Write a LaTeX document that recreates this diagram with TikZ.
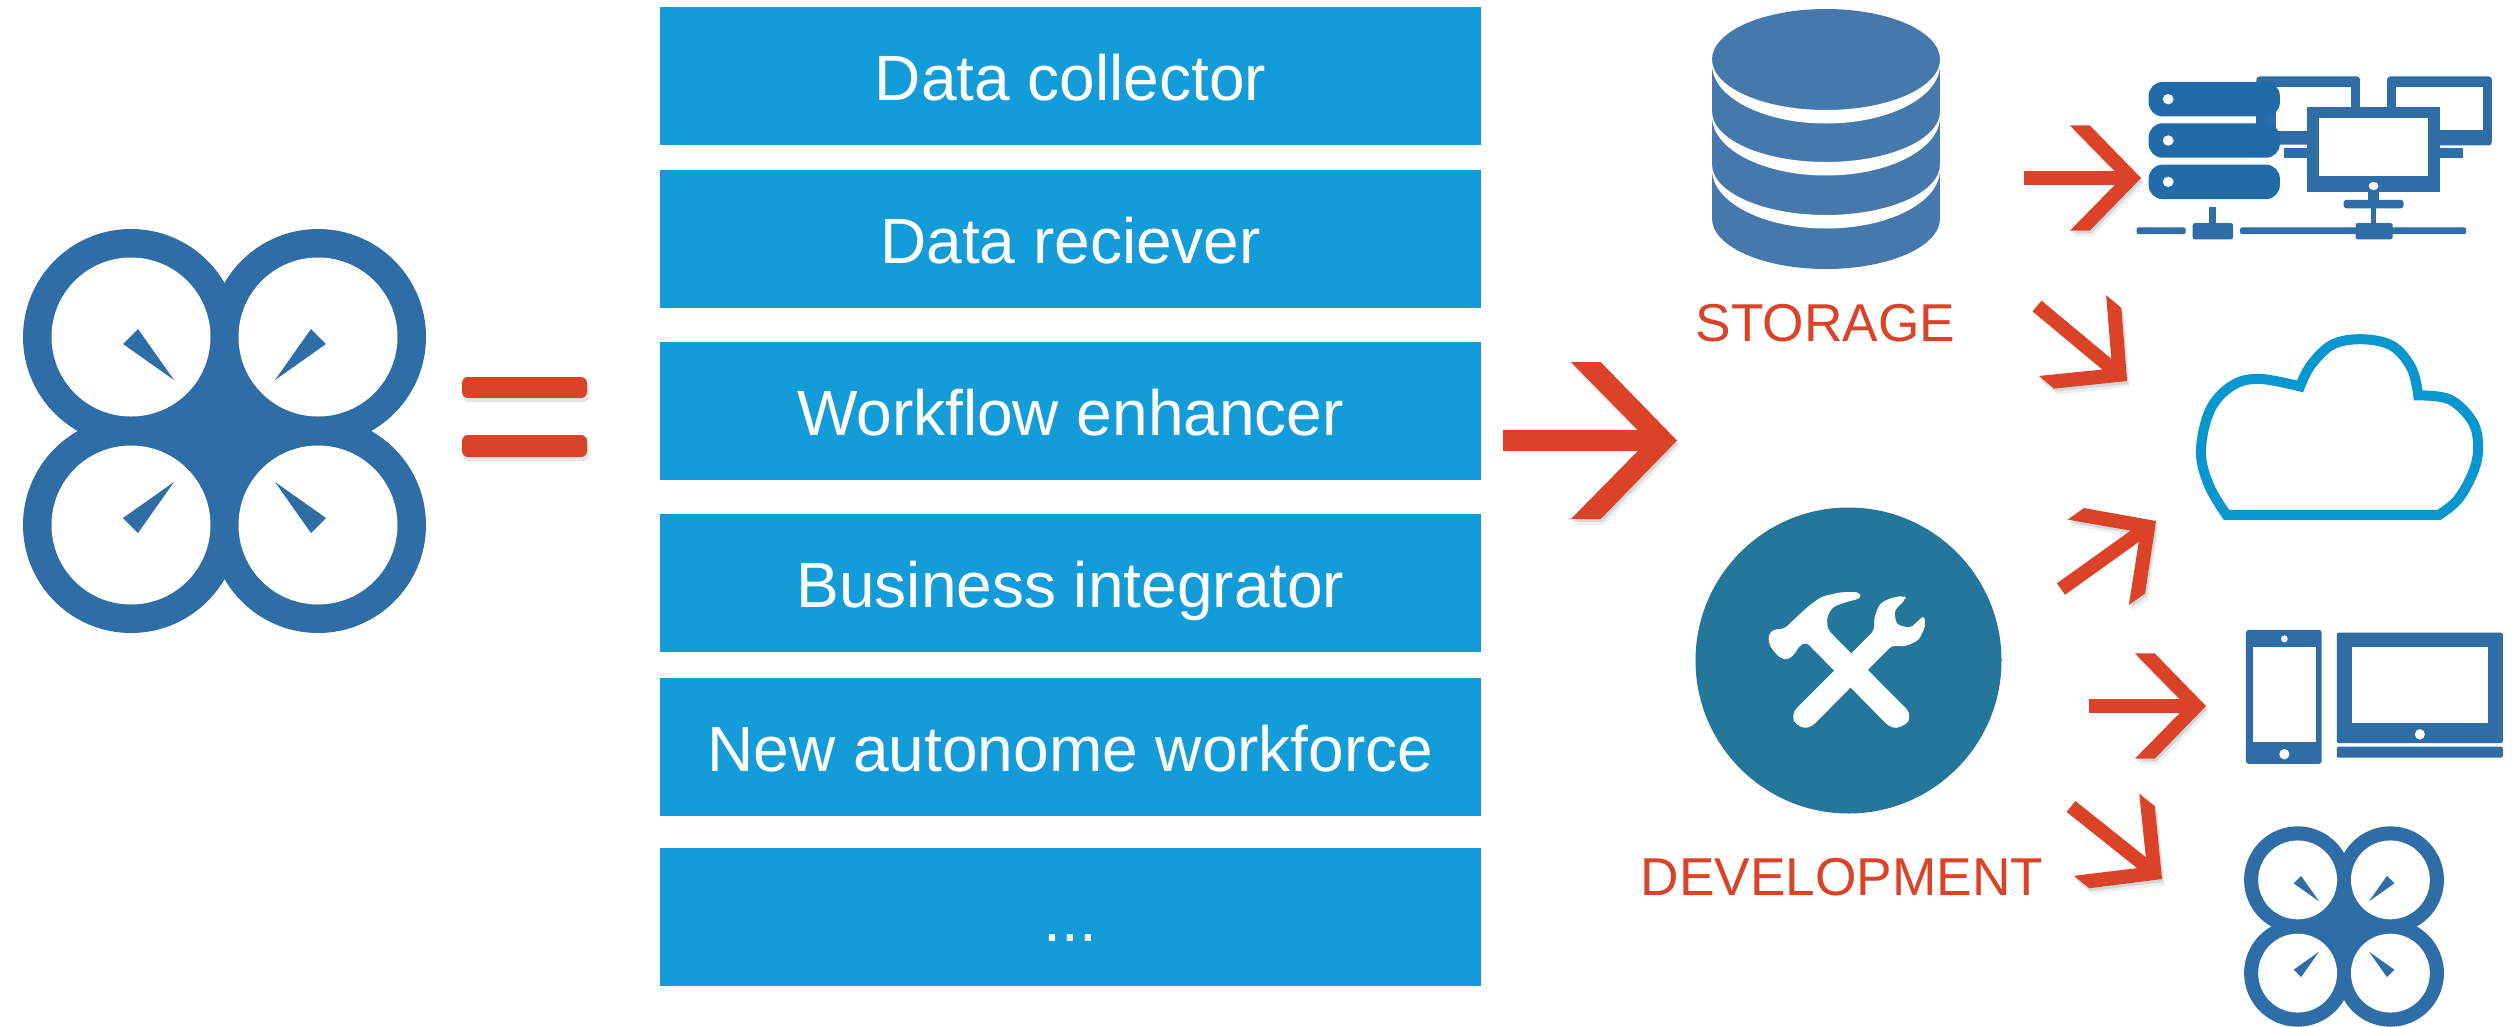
\documentclass[tikz,border=0pt]{standalone}
\usepackage{fontspec}
\setmainfont{Liberation Sans}
\usetikzlibrary{arrows.meta}
\definecolor{boxblue}{HTML}{139CD7}
\definecolor{logoblue}{HTML}{2E6DA5}
\definecolor{dbblue}{HTML}{4579AB}
\definecolor{devteal}{HTML}{24769B}
\definecolor{srvblue}{HTML}{216BA8}
\definecolor{redo}{HTML}{DA4327}
\definecolor{cloudblue}{HTML}{0796CE}
\pgfdeclarearrow{
  name=Chev,
  parameters={\the\pgfarrowlength},
  setup code={
    \pgfarrowssettipend{0pt}
    \pgfarrowssetlineend{-0.36\pgfarrowlength}
    \pgfarrowssetbackend{-0.72\pgfarrowlength}
    \pgfarrowssavethe\pgfarrowlength
  },
  drawing code={
    \pgfpathmoveto{\pgfpointorigin}
    \pgfpathlineto{\pgfpoint{-0.72\pgfarrowlength}{0.74\pgfarrowlength}}
    \pgfpathlineto{\pgfpoint{-1\pgfarrowlength}{0.74\pgfarrowlength}}
    \pgfpathlineto{\pgfpoint{-0.37\pgfarrowlength}{0.5\pgflinewidth}}
    \pgfpathlineto{\pgfpoint{-0.37\pgfarrowlength}{-0.5\pgflinewidth}}
    \pgfpathlineto{\pgfpoint{-1\pgfarrowlength}{-0.74\pgfarrowlength}}
    \pgfpathlineto{\pgfpoint{-0.72\pgfarrowlength}{-0.74\pgfarrowlength}}
    \pgfpathclose
    \pgfusepathqfill
  },
  defaults={length=70pt}
}
\tikzset{
  softshadow/.style={
    preaction={draw=black,opacity=.06,transform canvas={xshift=3pt,yshift=-6pt}},
    preaction={draw=black,opacity=.10,transform canvas={xshift=1.5pt,yshift=-3pt}}},
  redarrow/.style={draw=redo,line width=14pt,-{Chev[length=71pt]},softshadow},
  bigarrow/.style={draw=redo,line width=21pt,-{Chev[length=106pt]},softshadow},
  box/.style={fill=boxblue,text=white,minimum width=821pt,minimum height=138pt,inner sep=0pt,
    text height=48.8pt,text depth=0pt,font=\fontsize{64}{64}\selectfont},
  redlabel/.style={text=redo,anchor=base,inner sep=0pt,font=\fontsize{53.3}{53.3}\selectfont},
  eqbar/.style={fill=redo,rounded corners=6pt},
  eqshadow/.style={fill=black,opacity=.1,rounded corners=6pt},
  zoomA/.style={shift={(1660,0)},x=0.5447pt,y=-0.3444pt},
  zoomB/.style={shift={(1640,480)},x=0.5574pt,y=-0.3484pt},
  logo/.pic={
    \fill[logoblue] (-93.5,-94) circle[radius=108];
    \fill[logoblue] (93.5,-94) circle[radius=108];
    \fill[logoblue] (-93.5,94) circle[radius=108];
    \fill[logoblue] (93.5,94) circle[radius=108];
    \fill[logoblue] (-93.5,-94) rectangle (93.5,94);
    \fill[white] (-93.5,-94) circle[radius=79.5];
    \fill[white] (93.5,-94) circle[radius=79.5];
    \fill[white] (-93.5,94) circle[radius=79.5];
    \fill[white] (93.5,94) circle[radius=79.5];
    \fill[logoblue] (-50.5,-51) -- (-101.5,-87) -- (-86.5,-102) -- cycle;
    \fill[logoblue] (50.5,-51) -- (101.5,-87) -- (86.5,-102) -- cycle;
    \fill[logoblue] (-50.5,51) -- (-101.5,87) -- (-86.5,102) -- cycle;
    \fill[logoblue] (50.5,51) -- (101.5,87) -- (86.5,102) -- cycle;
  }
}
\newcommand{\dbband}[1]{%
  \fill[white] (1712,#1) arc[start angle=180,end angle=0,x radius=114,y radius=50.5]
    -- (1940,#1+5) arc[start angle=0,end angle=180,x radius=114,y radius=59] -- cycle;}
\begin{document}
\begin{tikzpicture}[x=1pt,y=-1pt]
\useasboundingbox (0,0) rectangle (2514,1026);
\fill[white] (0,0) rectangle (2514,1026);

% big logo and equals sign
\pic at (224.5,431) {logo};
\path[eqshadow] (463,381) rectangle (589,402);
\path[eqshadow] (463,439) rectangle (589,461);
\path[eqbar] (462,377) rectangle (587,398);
\path[eqbar] (462,435) rectangle (587,457);

% text boxes
\node[box] (b1) at (1070.5,76) {Data collector};
\node[box] (b2) at (1070.5,239) {Data reciever};
\node[box] (b3) at (1070.5,411) {Workflow enhancer};
\node[box] (b4) at (1070.5,583) {Business integrator};
\node[box] (b5) at (1070.5,747) {New autonome workforce};
\node[box] (b6) at (1070.5,917) {...};

% database
\fill[dbblue] (1712,59.5) rectangle (1940,218.5);
\fill[dbblue] (1826,59.5) circle[x radius=114,y radius=50.5];
\fill[dbblue] (1826,218.5) circle[x radius=114,y radius=50.5];
\dbband{59.5}
\dbband{111.5}
\dbband{164.5}
\node[redlabel] (storage) at (1825.5,341) {STORAGE};

% development disc with tools
\fill[devteal] (1848.5,660.5) circle[radius=153];
\begin{scope}[zoomB]
  \fill[white,rounded corners=4pt] (420,432) -- (420,395) -- (430,355) -- (450,338) -- (475,332) -- (477,342)
    -- (456,375) -- (460,415) -- (485,425) -- (510,388) -- (512,420) -- (500,460) -- (475,478) -- (452,475)
    -- (310,705) -- (295,714) -- (275,695) -- (275,665) -- cycle;
  \fill[white,rounded corners=4pt] (337,430) -- (335,395) -- (345,365) -- (370,350) -- (396,340) -- (395,322)
    -- (360,322) -- (325,335) -- (300,365) -- (258,428) -- (240,428) -- (230,445) -- (232,475) -- (250,510)
    -- (265,517) -- (280,495) -- (283,480) -- (298,465) -- (445,705) -- (460,714) -- (483,695) -- (483,665) -- cycle;
\end{scope}
\node[redlabel] (development) at (1842,895) {DEVELOPMENT};

% servers and monitors
\begin{scope}[zoomA]
  \fill[logoblue,rounded corners=3pt] (1095,222) rectangle (1285,420);
  \fill[white] (1130,252) rectangle (1268,380);
  \fill[logoblue,rounded corners=3pt] (1335,222) rectangle (1527,422);
  \fill[white] (1352,252) rectangle (1510,378);
  \fill[logoblue] (1145,430) rectangle (1190,458);
  \fill[logoblue] (1430,430) rectangle (1475,458);
  \fill[logoblue] (1188,310) rectangle (1432,558);
  \fill[white] (1210,343) rectangle (1410,512);
  \fill[white] (1310,540) circle[x radius=9,y radius=12];
  \fill[logoblue] (1300,558) rectangle (1320,580);
  \fill[logoblue,rounded corners=3pt] (1255,580) rectangle (1365,605);
  \fill[logoblue] (1305,605) rectangle (1315,650);
  \fill[logoblue,rounded corners=2pt] (1277,648) rectangle (1345,695);
  \fill[logoblue,rounded corners=2pt] (1065,660) rectangle (1480,680);
  \fill[logoblue,rounded corners=2pt] (875,660) rectangle (965,680);
  \fill[logoblue,rounded corners=2pt] (978,648) rectangle (1052,695);
  \fill[logoblue] (1008,600) rectangle (1020,648);
  \fill[srvblue] (1095,335) rectangle (1110,362);
  \foreach \t/\d in {238/288,358/408,478/528}{
    \fill[srvblue,rounded corners=14pt] (897,\t) rectangle (1138,\t+100);
    \fill[white] (933,\d) circle[x radius=10,y radius=15];
  }
  % cloud
  \draw[cloudblue,line width=10pt,line join=miter] (1040,1495) -- (1430,1495)
    -- plot[smooth,tension=.6] coordinates {(1430,1495) (1465,1450) (1493,1370) (1502,1300) (1492,1225) (1450,1160) (1392,1148)}
    -- plot[smooth,tension=.6] coordinates {(1392,1148) (1380,1070) (1345,1005) (1290,985) (1235,1000) (1195,1060) (1175,1122)}
    -- plot[smooth,tension=.6] coordinates {(1175,1122) (1100,1100) (1050,1120) (1010,1190) (993,1310) (1008,1410) (1040,1495)} -- cycle;
\end{scope}

% phone and tablet
\begin{scope}[zoomB]
  \fill[logoblue,rounded corners=3pt] (1087,430) rectangle (1223,815);
  \fill[white] (1100,480) rectangle (1212,752);
  \fill[white] (1156,456) circle[x radius=6,y radius=10];
  \fill[white] (1156,787) circle[x radius=9,y radius=15];
  \fill[logoblue,rounded corners=2pt] (1250,438) rectangle (1548,755);
  \fill[white] (1277,480) rectangle (1521,697);
  \fill[white] (1399,730) circle[x radius=9,y radius=15];
  \fill[logoblue,rounded corners=2pt] (1250,765) rectangle (1548,797);
\end{scope}

% small logo
\pic[scale=.496] at (2344,926.5) {logo};

% arrow end points
\coordinate (a0s) at (1503,440.5);  \coordinate (a0e) at (1677,440.5);
\coordinate (a1s) at (2024,178);    \coordinate (a1e) at (2141,178);
\coordinate (a2s) at (2037,306);    \coordinate (a2e) at (2127,381);
\coordinate (a3s) at (2061,589);    \coordinate (a3e) at (2156,521);
\coordinate (a4s) at (2089,706);    \coordinate (a4e) at (2206,706);
\coordinate (a5s) at (2071,806.5);  \coordinate (a5e) at (2162,879);

\draw[bigarrow] (a0s) -- (a0e);
\draw[redarrow] (a1s) -- (a1e);
\draw[redarrow] (a2s) -- (a2e);
\draw[redarrow] (a3s) -- (a3e);
\draw[redarrow] (a4s) -- (a4e);
\draw[redarrow] (a5s) -- (a5e);
\end{tikzpicture}
\end{document}
